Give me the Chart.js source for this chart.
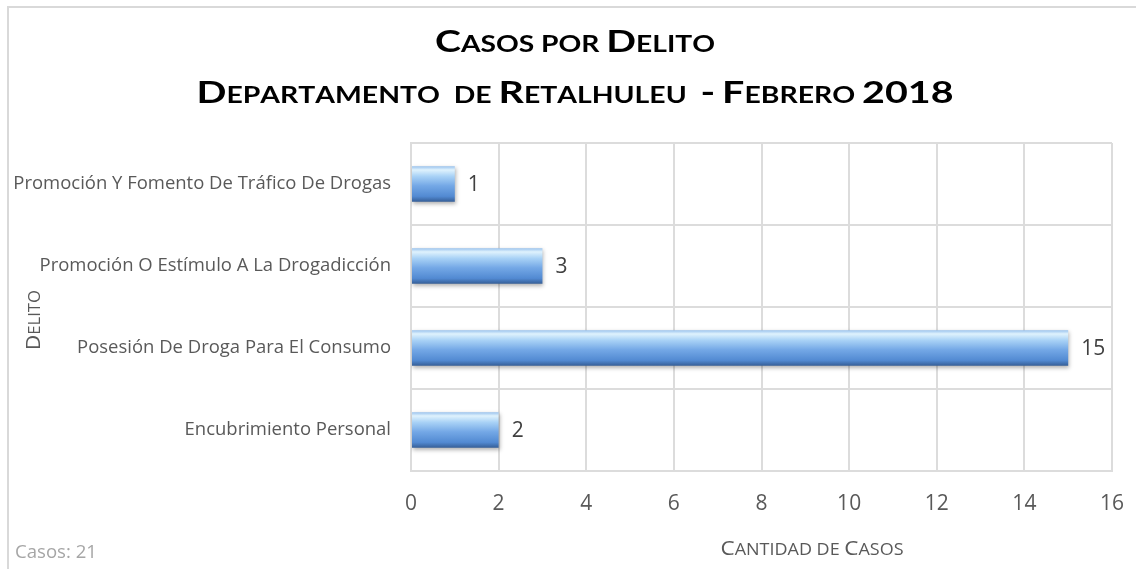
<!DOCTYPE html>
<html>
<head>
<meta charset="utf-8">
<script src="https://cdn.jsdelivr.net/npm/chart.js@4"></script>
<style>
  html, body { margin: 0; padding: 0; background: #ffffff; overflow: hidden; }
  #c { display: block; }
</style>
</head>
<body>
<canvas id="c" width="1136" height="569" style="width:1136px;height:569px"></canvas>
<script>
// ---- data ----
const categories = [
  'Promoción Y Fomento De Tráfico De Drogas',
  'Promoción O Estímulo A La Drogadicción',
  'Posesión De Droga Para El Consumo',
  'Encubrimiento Personal'
];
const casos = [1, 3, 15, 2];
const xTickValues = [0, 2, 4, 6, 8, 10, 12, 14, 16];
const titleLines = ['Casos por Delito', 'Departamento  de Retalhuleu  - Febrero 2018'];
const yAxisTitle = 'Delito';
const xAxisTitle = 'Cantidad de Casos';
const footnote = 'Casos: 21';

// ---- helpers ----
const mctx = document.createElement('canvas').getContext('2d');
function fitSize(text, family, weight, base, target) {
  mctx.font = weight + ' ' + base + 'px ' + family;
  return base * target / mctx.measureText(text).width;
}
function drawSmallCaps(ctx, text, x, y, opt) {
  const runs = [];
  let total = 0;
  for (const ch of text) {
    const up = ch.toUpperCase();
    const small = (ch !== up) || ch === ' ';
    const sz = small ? opt.size * opt.ratio : opt.size;
    ctx.font = opt.weight + ' ' + sz + 'px ' + opt.family;
    const w = ctx.measureText(up).width;
    runs.push({ g: up, sz: sz, w: w });
    total += w;
  }
  const sx = opt.width / total;
  ctx.save();
  ctx.translate(x, y);
  if (opt.rotate) ctx.rotate(opt.rotate);
  ctx.scale(sx, 1);
  ctx.fillStyle = opt.color;
  ctx.textBaseline = 'alphabetic';
  ctx.textAlign = 'left';
  let cx = opt.align === 'left' ? 0 : -total / 2;
  for (const r of runs) {
    ctx.font = opt.weight + ' ' + r.sz + 'px ' + opt.family;
    ctx.fillText(r.g, cx, 0);
    cx += r.w;
  }
  ctx.restore();
}

const labelFamily = "'Open Sans', sans-serif";
const labelSize = fitSize(categories[0], labelFamily, 'normal', 20, 378);
const numFont = { family: labelFamily, size: 21 };
const gridColor = '#dcdcdc';

// ---- plugins ----
const framePlugin = {
  id: 'frame',
  beforeDraw(chart) {
    const ctx = chart.ctx;
    ctx.save();
    ctx.fillStyle = '#ffffff';
    ctx.fillRect(0, 0, chart.width, chart.height);
    ctx.strokeStyle = '#d9d9d9';
    ctx.lineWidth = 2;
    ctx.strokeRect(8, 7, chart.width + 50, chart.height + 50);
    ctx.restore();
  }
};
const shadowPlugin = {
  id: 'barShadow',
  beforeDatasetsDraw(chart) {
    const ctx = chart.ctx;
    ctx.save();
    ctx.shadowColor = 'rgba(0,0,0,0.30)';
    ctx.shadowBlur = 4;
    ctx.shadowOffsetY = 2;
    ctx.shadowOffsetX = 1;
  },
  afterDatasetsDraw(chart) {
    chart.ctx.restore();
  }
};
const textPlugin = {
  id: 'texts',
  afterDraw(chart) {
    const ctx = chart.ctx;
    // data labels
    const meta = chart.getDatasetMeta(0);
    ctx.save();
    ctx.font = numFont.size + 'px ' + numFont.family;
    ctx.fillStyle = '#404040';
    ctx.textBaseline = 'middle';
    ctx.textAlign = 'left';
    meta.data.forEach((bar, i) => {
      ctx.fillText(String(casos[i]), bar.x + 13, bar.y + 1);
    });
    ctx.restore();
    // titles
    const tf = "Lato, 'Open Sans', sans-serif";
    drawSmallCaps(ctx, titleLines[0], 575, 52, { size: 31, ratio: 0.72, family: tf, weight: 'bold', color: '#000000', width: 280 });
    drawSmallCaps(ctx, titleLines[1], 575, 103, { size: 31, ratio: 0.72, family: tf, weight: 'bold', color: '#000000', width: 757 });
    // axis titles
    drawSmallCaps(ctx, xAxisTitle, 812, 555, { size: 20, ratio: 0.8, family: labelFamily, weight: 'normal', color: '#595959', width: 183 });
    drawSmallCaps(ctx, yAxisTitle, 40, 320, { size: 20, ratio: 0.8, family: labelFamily, weight: 'normal', color: '#595959', width: 60, rotate: -Math.PI / 2 });
    // footnote
    ctx.save();
    const fs = fitSize(footnote, labelFamily, 'normal', 14, 82);
    ctx.font = fs + 'px ' + labelFamily;
    ctx.fillStyle = '#a6a6a6';
    ctx.textBaseline = 'alphabetic';
    ctx.fillText(footnote, 15, 558);
    ctx.restore();
  }
};

function barGradient(c) {
  const ch = c.chart;
  const ys = ch.scales && ch.scales.y;
  if (c.dataIndex === undefined || !ys || !ch.chartArea) return '#6fa3e3';
  const cy = ys.getPixelForValue(c.dataIndex);
  const h = (ys.height / categories.length) * 0.43 / 2;
  const g = ch.ctx.createLinearGradient(0, cy - h, 0, cy + h);
  g.addColorStop(0.00, '#9cc4ee');
  g.addColorStop(0.10, '#dff2fd');
  g.addColorStop(0.28, '#a9d2f6');
  g.addColorStop(0.55, '#74a8e6');
  g.addColorStop(0.85, '#528ad2');
  g.addColorStop(1.00, '#365f98');
  return g;
}

new Chart(document.getElementById('c'), {
  type: 'bar',
  data: {
    labels: categories,
    datasets: [{
      data: casos,
      backgroundColor: barGradient,
      borderWidth: 0,
      barPercentage: 0.43,
      categoryPercentage: 1
    }]
  },
  options: {
    responsive: false,
    animation: false,
    indexAxis: 'y',
    layout: { padding: { left: 0, right: 24, top: 143, bottom: 0 } },
    plugins: { legend: { display: false }, title: { display: false }, tooltip: { enabled: false } },
    scales: {
      x: {
        min: 0, max: 16,
        afterBuildTicks: s => { s.ticks = xTickValues.map(v => ({ value: v })); },
        ticks: { font: numFont, color: '#595959', padding: 20, maxRotation: 0 },
        grid: { color: gridColor, lineWidth: 2, drawTicks: false },
        border: { display: true, color: gridColor, width: 2 },
        afterFit: s => { s.height = 98; s.paddingLeft = 0; s.paddingRight = 0; }
      },
      y: {
        grid: { color: gridColor, lineWidth: 2, drawTicks: false, offset: true },
        border: { display: true, color: gridColor, width: 2 },
        ticks: { font: { family: labelFamily, size: labelSize }, color: '#595959', padding: 20 },
        afterFit: s => { s.width = 411; s.paddingTop = 0; s.paddingBottom = 0; }
      }
    }
  },
  plugins: [framePlugin, shadowPlugin, textPlugin]
});
</script>
</body>
</html>
